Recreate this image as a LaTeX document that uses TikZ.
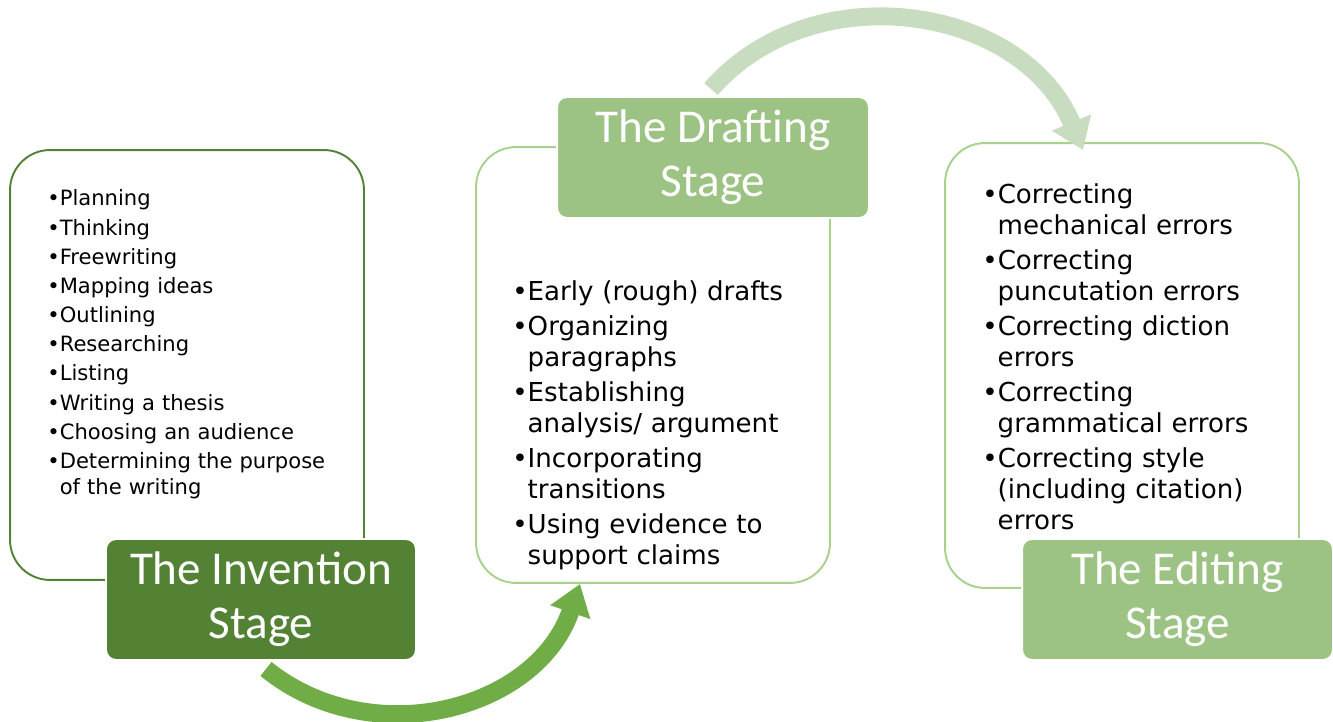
\documentclass[tikz,border=0pt]{standalone}
\usepackage{fontspec}
\setmainfont{DejaVu Sans}
\newfontfamily\headfont{Carlito}
\usetikzlibrary{arrows.meta,calc}
\definecolor{invgreen}{HTML}{548235}
\definecolor{stagegreen}{HTML}{9DC384}
\definecolor{boxgreen}{HTML}{A9D18E}
\definecolor{arrowgreen}{HTML}{70AD47}
\definecolor{palegreen}{HTML}{C8DCC0}
\newcommand\bitem[1]{\setlength{\lineskip}{0pt}\noindent\strut•\begin{tabular}[t]{@{}l@{}}#1\end{tabular}\par}

\begin{document}
\begin{tikzpicture}[x=0.02cm,y=0.02cm,
    listbox/.style={draw,line width=1.1pt,rounded corners=0.8cm,minimum width=7.08cm,fill=white},
    stagebox/.style={draw=white,line width=1.1pt,rounded corners=0.2cm,text=white,minimum width=6.2cm,minimum height=2.42cm,align=center,font=\headfont\fontsize{26.8}{30.6}\selectfont},
    smalllist/.style={anchor=base west,inner sep=0pt,text width=6.2cm,font=\fontsize{12}{14.7}\selectfont\setlength{\parskip}{1.9pt}},
    biglist/.style={anchor=base west,inner sep=0pt,text width=6cm,font=\fontsize{14.85}{17.6}\selectfont\setlength{\parskip}{2.3pt}},
    stagearrow/.style={line width=10.2pt,-{Triangle[length=17pt,width=23pt]}}
]
\useasboundingbox (0,0) rectangle (1333,-722);

\node[listbox,draw=invgreen,minimum height=8.6cm] (invbox) at (187,-365) {};
\node[listbox,draw=boxgreen,minimum height=8.72cm] (drbox) at (653,-365) {};
\node[listbox,draw=boxgreen,minimum height=8.9cm] (edbox) at (1122,-365.5) {};

\node[stagebox,fill=invgreen] (invst) at (261,-599.5) {The Invention\\Stage};
\node[stagebox,fill=stagegreen,minimum width=6.24cm] (drst) at (713,-157.5) {The Drafting\\Stage};
\node[stagebox,fill=stagegreen,minimum width=6.22cm] (edst) at (1177.5,-599.5) {The Editing\\Stage};

\draw[stagearrow,arrowgreen] ($(invst.south)+(5,-8)$) to[out=-39,in=251,looseness=1.06] ($(drbox.south)+(-73,0)$);
\draw[stagearrow,palegreen] ($(drst.north)+(-2,7)$) to[out=48.7,in=112.6,looseness=1.06] ($(edbox.north)+(-39,-8)$);

\node[smalllist] (invlist) at (47,-206) {\bitem{Planning}\bitem{Thinking}\bitem{Freewriting}\bitem{Mapping ideas}\bitem{Outlining}\bitem{Researching}\bitem{Listing}\bitem{Writing a thesis}\bitem{Choosing an audience}\bitem{Determining the purpose\\of the writing}};
\node[biglist] (drlist) at (512,-301) {\bitem{Early (rough) drafts}\bitem{Organizing\\paragraphs}\bitem{Establishing\\analysis/ argument}\bitem{Incorporating\\transitions}\bitem{Using evidence to\\support claims}};
\node[biglist] (edlist) at (982,-204) {\bitem{Correcting\\mechanical errors}\bitem{Correcting\\puncutation errors}\bitem{Correcting diction\\errors}\bitem{Correcting\\grammatical errors}\bitem{Correcting style\\(including citation)\\errors}};
\end{tikzpicture}
\end{document}
